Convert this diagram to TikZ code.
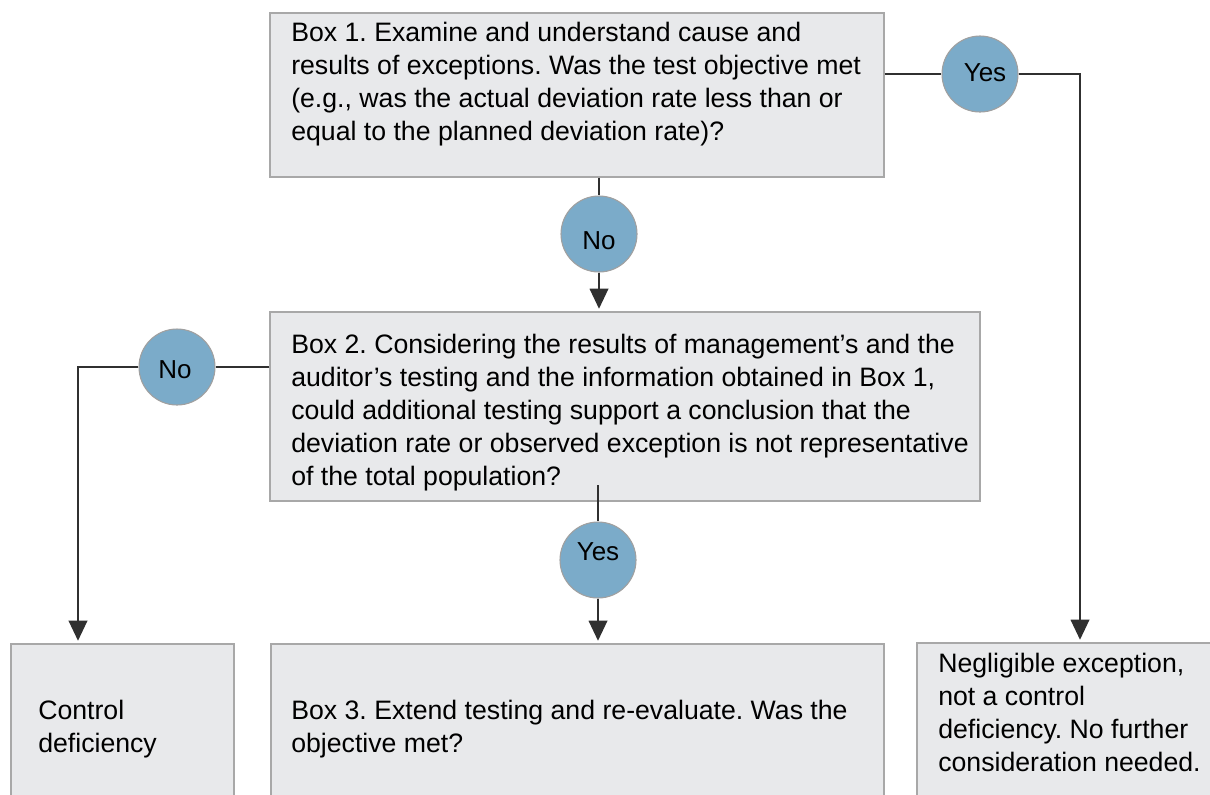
\documentclass[tikz,border=0pt]{standalone}
\usepackage{fontspec}
\setmainfont{Liberation Sans}
\usetikzlibrary{arrows.meta}
\definecolor{boxfill}{HTML}{E8E9EB}
\definecolor{boxline}{HTML}{A8A8A8}
\definecolor{circfill}{HTML}{7BABC9}
\definecolor{circline}{HTML}{A0A0A0}
\definecolor{connc}{HTML}{303030}
\frenchspacing
\begin{document}
\begin{tikzpicture}[x=0.75pt,y=-0.75pt,
  box/.style={draw=boxline, fill=boxfill, line width=0.9pt, rectangle, inner sep=0},
  txt/.style={anchor=north west, align=left, inner sep=0, font=\fontsize{20pt}{24.75pt}\selectfont},
  dec/.style={circle, draw=circline, fill=circfill, line width=0.8pt, minimum size=57pt, inner sep=0},
  lab/.style={inner sep=0, font=\fontsize{19.5pt}{24pt}\selectfont},
  connl/.style={draw=connc, line width=1pt},
  arr/.style={connl, -{Triangle[width=14pt,length=15pt]}, shorten >=2pt}]
\clip (0,0) rectangle (1210,794);
\fill[white] (0,0) rectangle (1210,794);
% boxes
\node[box, minimum width=614*0.75pt, minimum height=164*0.75pt] (b1) at (577,95) {};
\node[box, minimum width=710*0.75pt, minimum height=189*0.75pt] (b2) at (625,406.5) {};
\node[box, minimum width=223*0.75pt, minimum height=180*0.75pt] (bL) at (122.5,734) {};
\node[box, minimum width=613*0.75pt, minimum height=180*0.75pt] (b3) at (577.5,734) {};
\node[box, minimum width=310*0.75pt, minimum height=180*0.75pt] (bR) at (1072,733) {};
% texts
\node[txt] (t1) at (291,22) {Box 1. Examine and understand cause and\\results of exceptions. Was the test objective met\\(e.g., was the actual deviation rate less than or\\equal to the planned deviation rate)?};
\node[txt] (t2) at (291,334) {Box 2. Considering the results of management’s and the\\auditor’s testing and the information obtained in Box 1,\\could additional testing support a conclusion that the\\deviation rate or observed exception is not representative\\of the total population?};
\node[txt] (tL) at (38,700) {Control\\deficiency};
\node[txt] (t3) at (291,700) {Box 3. Extend testing and re-evaluate. Was the\\objective met?};
\node[txt] (tR) at (938,653) {Negligible exception,\\not a control\\deficiency. No further\\consideration needed.};
% decision circles
\node[dec] (y1) at (980,74) {};
\node[dec] (n1) at (599,234) {};
\node[dec] (n2) at (177,367) {};
\node[dec] (y2) at (598,560) {};
\node[lab] (y1t) at (985,73) {Yes};
\node[lab] (n1t) at (599,241) {No};
\node[lab] (n2t) at (175,370) {No};
\node[lab] (y2t) at (598,552) {Yes};
% connectors
\coordinate (rx) at (1080,0);
\coordinate (lx) at (78,0);
\coordinate (s2) at (598,485);
\draw[connl] (b1.east |- y1) -- (y1);
\draw[arr] (y1) -| (rx |- bR.north);
\draw[connl] (b1.south -| n1) -- (n1);
\draw[arr] (n1) -- (n1 |- b2.north);
\draw[connl] (b2.west |- n2) -- (n2);
\draw[arr] (n2) -| (lx |- bL.north);
\draw[connl] (s2) -- (y2);
\draw[arr] (y2) -- (y2 |- b3.north);
\end{tikzpicture}
\end{document}
